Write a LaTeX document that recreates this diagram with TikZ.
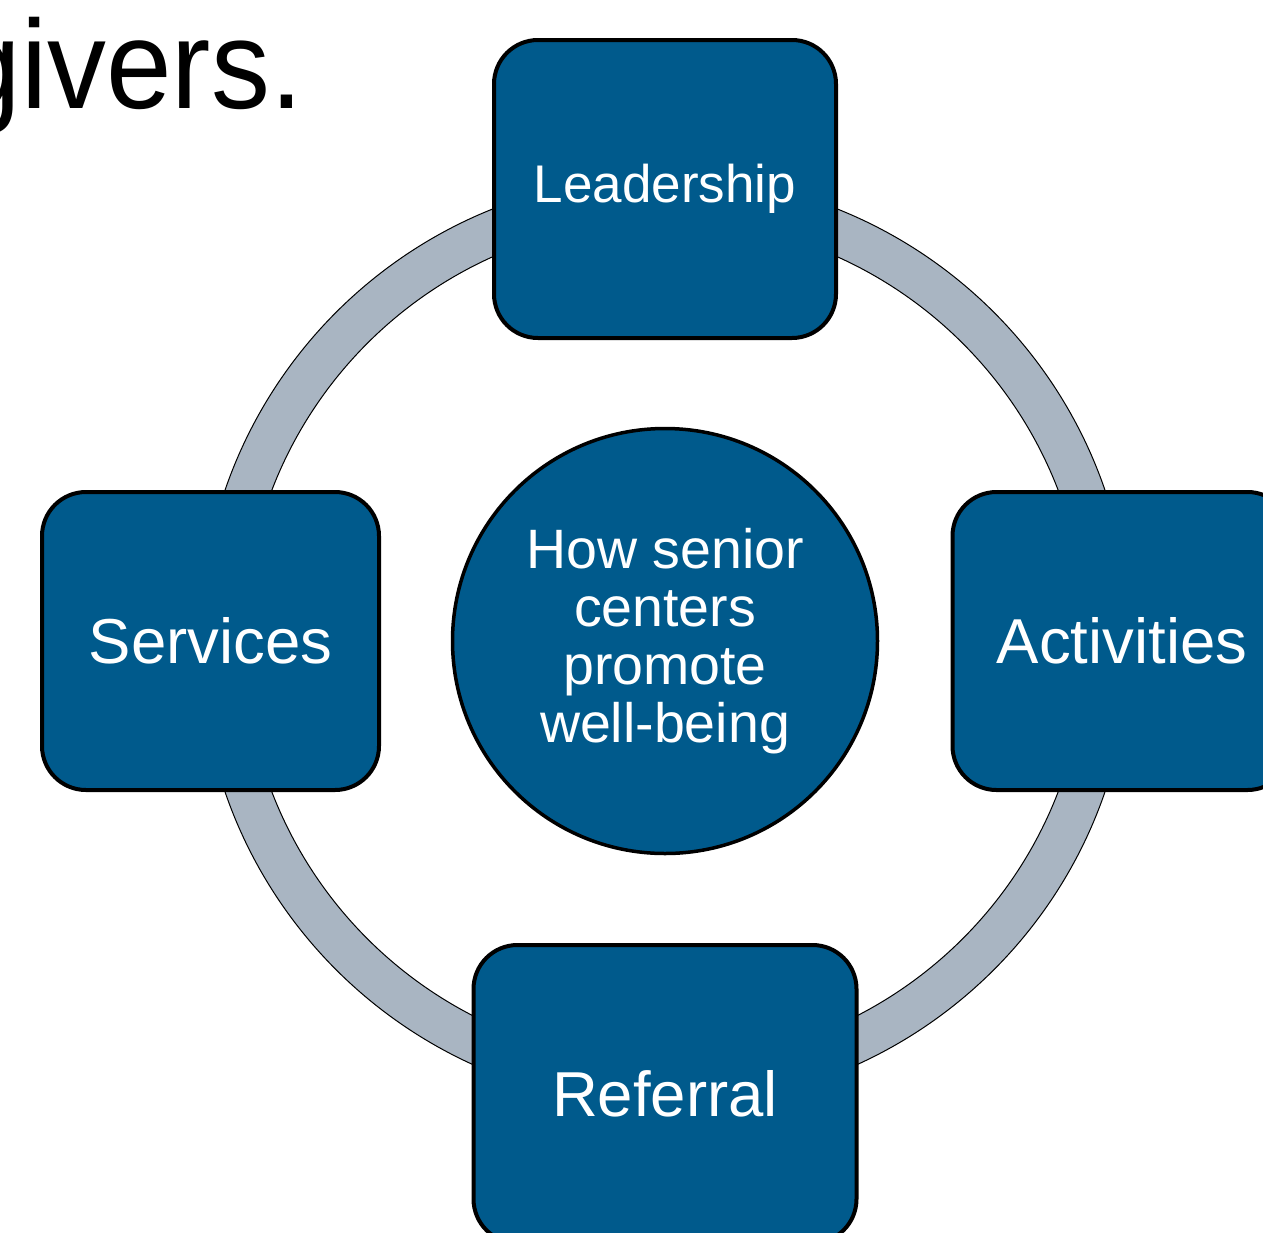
\documentclass[tikz,border=0pt]{standalone}
\usepackage{graphicx}
\usepackage{fontspec}
\setmainfont{Liberation Sans}
\definecolor{boxblue}{RGB}{0,90,140}
\definecolor{ringgray}{RGB}{169,181,194}
\begin{document}
\begin{tikzpicture}[x=1pt,y=-1pt,
  box/.style={draw=black, line width=4pt, fill=boxblue, rounded corners=44pt,
    text=white, align=center, inner sep=0pt, minimum height=298pt},
  hub/.style={draw=black, line width=3.5pt, fill=boxblue, circle, text=white,
    align=center, inner sep=0pt, minimum size=425pt}]
\useasboundingbox (0,0) rectangle (1263,1232);
\clip (0,0) rectangle (1263,1232);
\fill[white] (0,0) rectangle (1263,1232);
\node[anchor=base east, inner sep=0pt, font=\fontsize{126}{130}\selectfont] (title) at (303,108) {\scalebox{0.935}[1]{givers.}};
\path[fill=ringgray, draw=black, line width=1pt, even odd rule]
  (665,641) circle[radius=465pt] (665,641) circle[radius=421pt];
\node[box, minimum width=342pt, font=\fontsize{53}{58}\selectfont] (lead) at (665,189) {Leadership};
\node[box, minimum width=337pt, font=\fontsize{63.5}{68}\selectfont] (serv) at (210.5,641) {Services};
\node[box, minimum width=339pt, font=\fontsize{63.5}{68}\selectfont] (act) at (1122,641) {Activities};
\node[box, minimum width=383pt, font=\fontsize{63.5}{68}\selectfont] (ref) at (665,1094) {Referral};
\node[hub, font=\fontsize{55.5}{58}\selectfont] (hub) at (665,641) {How senior\\centers\\promote\\well-being};
\end{tikzpicture}
\end{document}
